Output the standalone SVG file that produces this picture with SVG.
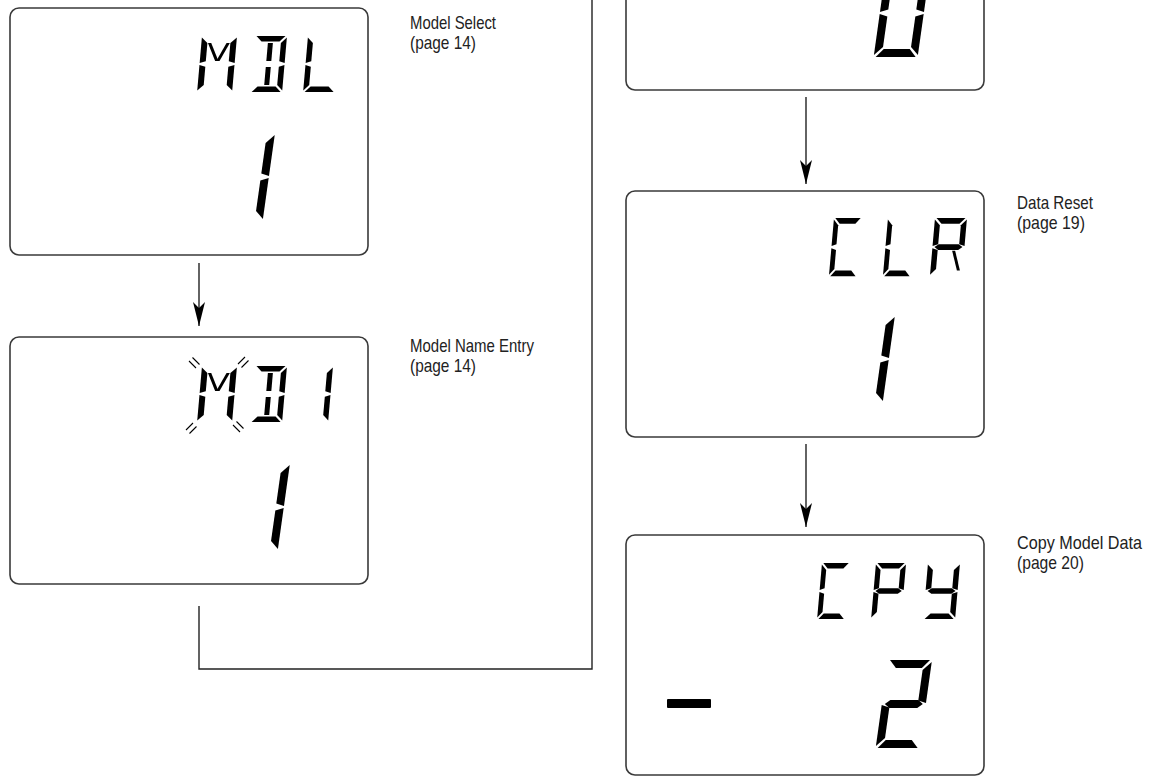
<svg xmlns="http://www.w3.org/2000/svg" xmlns:xlink="http://www.w3.org/1999/xlink" width="1166" height="778" viewBox="0 0 1166 778">
<style>
.box{fill:#fff;stroke:#3a3a3a;stroke-width:1.6}
.seg{fill:#000}
.conn{fill:none;stroke:#222;stroke-width:1.4}
.blink{stroke:#000;stroke-width:1.1;fill:none}
.lbl{font-family:"Liberation Sans",Arial,sans-serif;font-size:19px;fill:#222}
</style>
<defs>
<marker id="arr" markerUnits="userSpaceOnUse" markerWidth="26" markerHeight="14" refX="24" refY="6.5" orient="auto">
<path d="M0,0.5 L24,6.5 L0,12.5 L6,6.5 Z" fill="#000"/>
</marker>
<polygon id="sa" points="1.5,0 30.5,0 25,5.5 7,5.5"/>
<polygon id="sd" points="7,50.5 25,50.5 30.5,56 1.5,56"/>
<polygon id="sf" points="0,1.5 5.5,7 5.5,25.3 0,27"/>
<polygon id="se" points="0,29 5.5,30.7 5.5,49 0,54.5"/>
<polygon id="sb" points="32,1.5 32,27 26.5,25.3 26.5,7"/>
<polygon id="sc" points="32,29 32,54.5 26.5,49 26.5,30.7"/>
<polygon id="sg" points="2,28 6,25.3 26,25.3 30,28 26,30.7 6,30.7"/>
<polygon id="si" points="13.5,7 18.5,7 18.5,25 13.5,25"/>
<polygon id="sl" points="13.5,31 18.5,31 18.5,49 13.5,49"/>
<polygon id="sh" points="6,7 9,7 17,25 14,25"/>
<polygon id="sj" points="23,7 26,7 18,25 15,25"/>
<polygon id="sk" points="20,31.5 23,31.5 29.5,50.5 26.5,50.5"/>
<polygon id="bA" points="2,0 42,0 35,8 9,8"/>
<polygon id="bD" points="9,80 35,80 42,88 2,88"/>
<polygon id="bF" points="0,2 8,10 8,40.5 0,43"/>
<polygon id="bE" points="0,45 8,47.5 8,78 0,86"/>
<polygon id="bB" points="44,2 44,43 36,40.5 36,10"/>
<polygon id="bC" points="44,45 44,86 36,78 36,47.5"/>
<polygon id="bG" points="3,44 8,40 36,40 41,44 36,48 8,48"/>
</defs>

<g id="connectors">
<path class="conn" d="M199,263 V326" marker-end="url(#arr)"/>
<path class="conn" d="M199,606 V669 H592 V0"/>
<path class="conn" d="M806,97 V184" marker-end="url(#arr)"/>
<path class="conn" d="M806,444 V527" marker-end="url(#arr)"/>
</g>

<g id="node-top">
<rect class="box" x="626" y="-156" width="358" height="246" rx="9"/>
<g class="seg" transform="translate(886,-31) skewX(-8)">
<use href="#bA"/><use href="#bB"/><use href="#bC"/><use href="#bD"/><use href="#bE"/><use href="#bF"/>
</g>
</g>

<g id="node-mdl">
<rect class="box" x="10" y="8" width="358" height="247" rx="9"/>
<g class="seg" transform="translate(202,36) skewX(-5) scale(1.094,1)">
<use href="#sf"/><use href="#se"/><use href="#sb"/><use href="#sc"/><use href="#sh"/><use href="#sj"/>
</g>
<g class="seg" transform="translate(255,36) skewX(-5)">
<use href="#sa"/><use href="#sd"/><use href="#sb"/><use href="#sc"/><use href="#si"/><use href="#sl"/>
</g>
<g class="seg" transform="translate(308,36) skewX(-5)">
<use href="#sf"/><use href="#se"/><use href="#sd"/>
</g>
<g class="seg" transform="translate(231,133) skewX(-8)">
<use href="#bB"/><use href="#bC"/>
</g>
<text class="lbl" x="410" y="29" textLength="86" lengthAdjust="spacingAndGlyphs">Model Select</text>
<text class="lbl" x="410" y="49" textLength="66" lengthAdjust="spacingAndGlyphs">(page 14)</text>
</g>

<g id="node-md1">
<rect class="box" x="10" y="337" width="358" height="247" rx="9"/>
<g class="seg" transform="translate(202,366) skewX(-5) scale(1.094,1)">
<use href="#sf"/><use href="#se"/><use href="#sb"/><use href="#sc"/><use href="#sh"/><use href="#sj"/>
</g>
<g class="seg" transform="translate(255,366) skewX(-5)">
<use href="#sa"/><use href="#sd"/><use href="#sb"/><use href="#sc"/><use href="#si"/><use href="#sl"/>
</g>
<g class="seg" transform="translate(301,366) skewX(-5)">
<use href="#sb"/><use href="#sc"/>
</g>
<g class="seg" transform="translate(246,463) skewX(-8)">
<use href="#bB"/><use href="#bC"/>
</g>
<g class="blink">
<path d="M189,361 L196,368 M192.5,357.5 L199.5,364.5"/>
<path d="M238,364 L245,357 M241.5,367.5 L248.5,360.5"/>
<path d="M186,430 L193,423 M189.5,433.5 L196.5,426.5"/>
<path d="M233,425 L240,432 M236.5,421.5 L243.5,428.5"/>
</g>
<text class="lbl" x="410" y="352" textLength="124" lengthAdjust="spacingAndGlyphs">Model Name Entry</text>
<text class="lbl" x="410" y="372" textLength="66" lengthAdjust="spacingAndGlyphs">(page 14)</text>
</g>

<g id="node-clr">
<rect class="box" x="626" y="191" width="358" height="246" rx="9"/>
<g class="seg" transform="translate(834,218) skewX(-5) scale(0.875,1.04)">
<use href="#sa"/><use href="#sf"/><use href="#se"/><use href="#sd"/>
</g>
<g class="seg" transform="translate(888,218) skewX(-5) scale(0.875,1.04)">
<use href="#sf"/><use href="#se"/><use href="#sd"/>
</g>
<g class="seg" transform="translate(935,218) skewX(-5) scale(1,1.04)">
<use href="#sa"/><use href="#sf"/><use href="#se"/><use href="#sb"/><use href="#sg"/><use href="#sk"/>
</g>
<g class="seg" transform="translate(851,315) skewX(-8)">
<use href="#bB"/><use href="#bC"/>
</g>
<text class="lbl" x="1017" y="209" textLength="76" lengthAdjust="spacingAndGlyphs">Data Reset</text>
<text class="lbl" x="1017" y="229" textLength="68" lengthAdjust="spacingAndGlyphs">(page 19)</text>
</g>

<g id="node-cpy">
<rect class="box" x="626" y="535" width="358" height="240" rx="9"/>
<g class="seg" transform="translate(822,563) skewX(-5) scale(0.875,1)">
<use href="#sa"/><use href="#sf"/><use href="#se"/><use href="#sd"/>
</g>
<g class="seg" transform="translate(876,563) skewX(-5) scale(0.94,1)">
<use href="#sa"/><use href="#sf"/><use href="#se"/><use href="#sb"/><use href="#sg"/>
</g>
<g class="seg" transform="translate(928,563) skewX(-5)">
<use href="#sf"/><use href="#sb"/><use href="#sg"/><use href="#sc"/><use href="#sd"/>
</g>
<rect class="seg" x="667" y="699" width="44" height="9" rx="1"/>
<g class="seg" transform="translate(888,660) skewX(-8)">
<use href="#bA"/><use href="#bB"/><use href="#bG"/><use href="#bE"/><use href="#bD"/>
</g>
<text class="lbl" x="1017" y="549" textLength="125" lengthAdjust="spacingAndGlyphs">Copy Model Data</text>
<text class="lbl" x="1017" y="569" textLength="67" lengthAdjust="spacingAndGlyphs">(page 20)</text>
</g>
</svg>
